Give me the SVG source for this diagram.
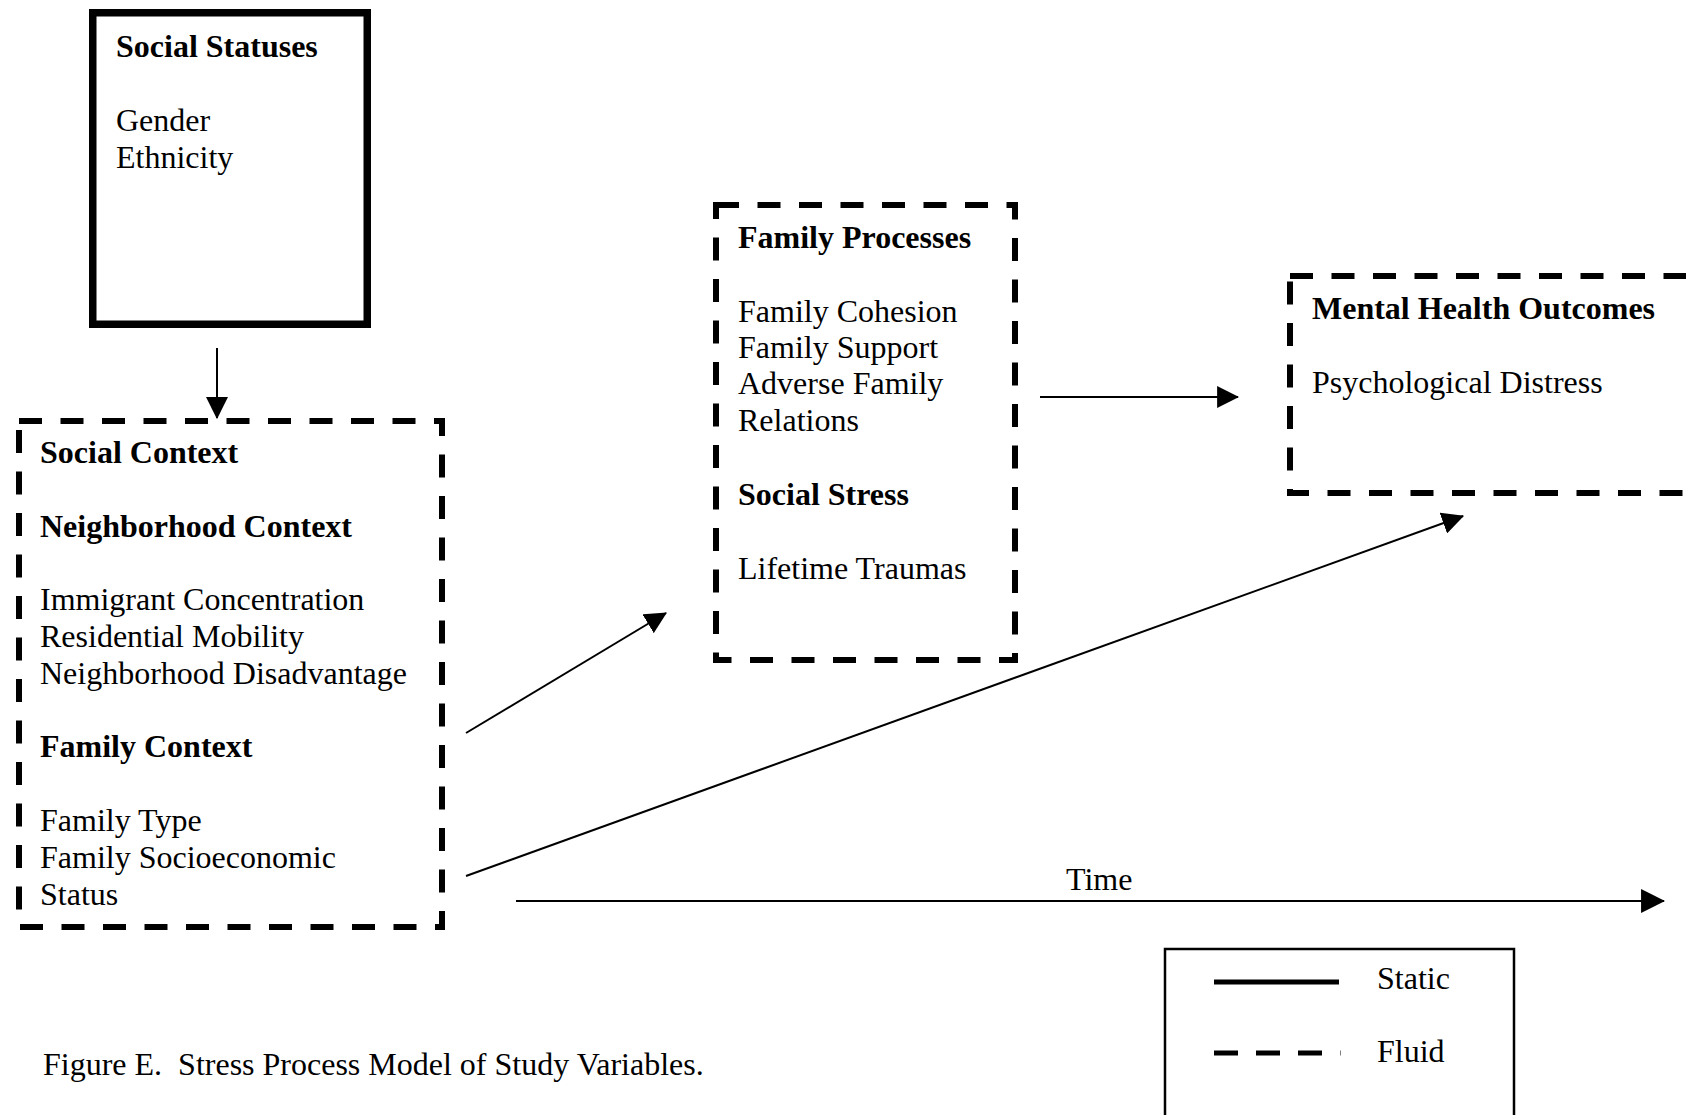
<svg xmlns="http://www.w3.org/2000/svg" width="1686" height="1115" viewBox="0 0 1686 1115">
<style>
text{font-family:"Liberation Serif","Times New Roman",serif;font-size:32px;fill:#000}
.b{font-weight:bold}
.solidbox{fill:none;stroke:#000;stroke-width:7.5}
.dashbox{fill:none;stroke:#000;stroke-width:6;stroke-dasharray:23 18.5}
.conn{stroke:#000;stroke-width:2;fill:none}
</style>
<defs>
<marker id="ah" markerUnits="userSpaceOnUse" markerWidth="22" markerHeight="22" refX="19" refY="10" orient="auto" viewBox="0 0 20 20">
<path d="M0,0 L20,10 L0,20 z" fill="#000"/>
</marker>
<marker id="ahT" markerUnits="userSpaceOnUse" markerWidth="24" markerHeight="24" refX="21" refY="11" orient="auto" viewBox="0 0 22 22">
<path d="M0,0 L22,11 L0,22 z" fill="#000"/>
</marker>
</defs>
<rect width="1686" height="1115" fill="#fff"/>

<g id="social-statuses">
<rect class="solidbox" x="92.75" y="12.75" width="274.5" height="311.5"/>
<text class="b" x="116" y="56.5">Social Statuses</text>
<text x="116" y="130.5">Gender</text>
<text x="116" y="167.5">Ethnicity</text>
</g>

<g id="social-context">
<rect class="dashbox" x="19" y="421" width="423" height="506"/>
<text class="b" x="40" y="463">Social Context</text>
<text class="b" x="40" y="536.6">Neighborhood Context</text>
<text x="40" y="610">Immigrant Concentration</text>
<text x="40" y="647">Residential Mobility</text>
<text x="40" y="683.8">Neighborhood Disadvantage</text>
<text class="b" x="40" y="757.4">Family Context</text>
<text x="40" y="831">Family Type</text>
<text x="40" y="867.8">Family Socioeconomic</text>
<text x="40" y="904.6">Status</text>
</g>

<g id="family-processes">
<rect class="dashbox" x="716" y="205" width="299" height="455"/>
<text class="b" x="738" y="247.5">Family Processes</text>
<text x="738" y="321.5">Family Cohesion</text>
<text x="738" y="357.5">Family Support</text>
<text x="738" y="393.5">Adverse Family</text>
<text x="738" y="430.5">Relations</text>
<text class="b" x="738" y="504.5">Social Stress</text>
<text x="738" y="578.5">Lifetime Traumas</text>
</g>

<g id="mental-health-outcomes">
<rect class="dashbox" x="1290" y="276" width="399" height="217"/>
<text class="b" x="1312" y="319">Mental Health Outcomes</text>
<text x="1312" y="393">Psychological Distress</text>
</g>

<g id="connectors">
<line class="conn" x1="217" y1="348" x2="217" y2="418" marker-end="url(#ah)"/>
<line class="conn" x1="1040" y1="397" x2="1238" y2="397" marker-end="url(#ah)"/>
<line class="conn" x1="466" y1="733" x2="666" y2="613" marker-end="url(#ah)"/>
<line class="conn" x1="466" y1="876" x2="1463" y2="516" marker-end="url(#ah)"/>
<line class="conn" x1="516" y1="901" x2="1664" y2="901" stroke-width="2.5" marker-end="url(#ahT)"/>
</g>

<g id="time-label">
<text x="1066" y="890">Time</text>
</g>

<g id="legend">
<rect x="1165" y="949" width="349" height="200" fill="none" stroke="#000" stroke-width="2.5"/>
<line x1="1214" y1="982" x2="1339" y2="982" stroke="#000" stroke-width="5"/>
<text x="1377" y="989">Static</text>
<line x1="1214" y1="1053" x2="1340.5" y2="1053" stroke="#000" stroke-width="5" stroke-dasharray="24 18"/>
<text x="1377" y="1062">Fluid</text>
</g>

<g id="caption">
<text x="43" y="1075" xml:space="preserve">Figure E.  Stress Process Model of Study Variables.</text>
</g>
</svg>
